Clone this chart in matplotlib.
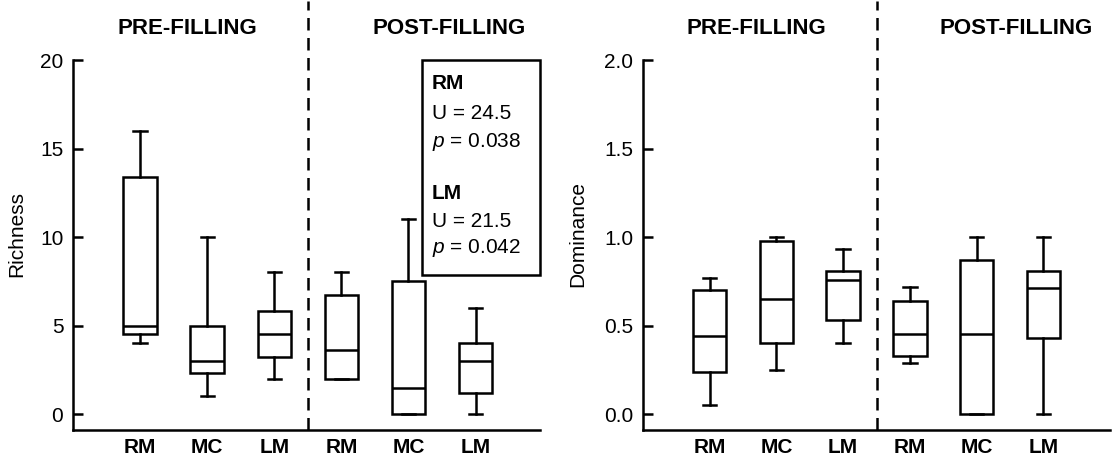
import numpy as np
import matplotlib
matplotlib.use('Agg')
import matplotlib.pyplot as plt
from matplotlib.patches import Rectangle

plt.rcParams['font.family'] = ['Liberation Sans', 'DejaVu Sans']
plt.rcParams['mathtext.fontset'] = 'custom'
plt.rcParams['mathtext.rm'] = 'Liberation Sans'
plt.rcParams['mathtext.it'] = 'Liberation Sans:italic'

# --- donnees ---
sites = ['RM', 'MC', 'LM', 'RM', 'MC', 'LM']
periodes = ['PRE-FILLING', 'POST-FILLING']

rich_bas = [4.0, 1.0, 2.0, 2.0, 0.0, 0.0]
rich_q1 = [4.5, 2.3, 3.2, 2.0, 0.0, 1.2]
rich_med = [5.0, 3.0, 4.5, 3.6, 1.5, 3.0]
rich_q3 = [13.4, 5.0, 5.8, 6.7, 7.5, 4.0]
rich_haut = [16.0, 10.0, 8.0, 8.0, 11.0, 6.0]

dom_bas = [0.05, 0.25, 0.40, 0.29, 0.0, 0.0]
dom_q1 = [0.24, 0.40, 0.53, 0.33, 0.0, 0.43]
dom_med = [0.44, 0.65, 0.76, 0.45, 0.45, 0.71]
dom_q3 = [0.70, 0.98, 0.81, 0.64, 0.87, 0.81]
dom_haut = [0.77, 1.0, 0.93, 0.72, 1.0, 1.0]

stat_lignes = ['RM', 'U = 24.5', '$p$ = 0.038', 'LM', 'U = 21.5', '$p$ = 0.042']
stat_gras = [True, False, False, True, False, False]
stat_y = [18.7, 16.95, 15.35, 12.45, 10.9, 9.4]

LW = 1.8
positions = np.arange(1, 7)


def stats_boites(bas, q1, med, q3, haut):
    return [dict(whislo=b, q1=a, med=m, q3=c, whishi=h, fliers=[])
            for b, a, m, c, h in zip(bas, q1, med, q3, haut)]


def panneau(ax, stats, ylim, yticks, fmt, ylabel, xmax, lab_x):
    ax.bxp(stats, positions=positions, widths=0.5, capwidths=0.2,
           showfliers=False, patch_artist=True,
           boxprops=dict(facecolor='white', edgecolor='black', linewidth=LW),
           medianprops=dict(color='black', linewidth=LW),
           whiskerprops=dict(color='black', linewidth=LW),
           capprops=dict(color='black', linewidth=LW))
    ax.set_xlim(0, xmax)
    ax.set_ylim(*ylim)
    ax.set_yticks(yticks)
    ax.set_yticklabels([fmt.format(v) for v in yticks], fontsize=15)
    ax.set_xticks(positions)
    ax.set_xticklabels(sites, fontsize=15, fontweight='bold')
    ax.tick_params(axis='x', length=0, pad=6)
    ax.tick_params(axis='y', direction='in', length=7, width=LW, pad=7)
    for s in ['top', 'right']:
        ax.spines[s].set_visible(False)
    for s in ['left', 'bottom']:
        ax.spines[s].set_linewidth(LW)
    ax.set_ylabel(ylabel, fontsize=15)
    ax.yaxis.set_label_coords(lab_x, 0.53)
    # separation avant / apres remplissage
    ax.axvline(3.5, ymin=0, ymax=1.16, color='black', linewidth=LW,
               linestyle=(0, (5, 3)), clip_on=False)
    tr = ax.get_xaxis_transform()
    ax.text(1.7, 1.086, periodes[0], transform=tr, ha='center', va='center',
            fontsize=16, fontweight='bold')
    ax.text(5.6, 1.086, periodes[1], transform=tr, ha='center', va='center',
            fontsize=16, fontweight='bold')


fig = plt.figure(figsize=(11.15, 4.57), dpi=100)
ax1 = fig.add_axes([0.0655, 0.0591, 0.4188, 0.8096])
ax2 = fig.add_axes([0.5767, 0.0591, 0.4188, 0.8096])

panneau(ax1, stats_boites(rich_bas, rich_q1, rich_med, rich_q3, rich_haut),
        (-0.9, 20), [0, 5, 10, 15, 20], '{:g}', 'Richness', 6.96, -0.10)
panneau(ax2, stats_boites(dom_bas, dom_q1, dom_med, dom_q3, dom_haut),
        (-0.09, 2.0), [0.0, 0.5, 1.0, 1.5, 2.0], '{:.1f}', 'Dominance', 7.0, -0.12)

# encadre des tests de Mann-Whitney
ax1.add_patch(Rectangle((5.2, 7.85), 6.96 - 5.2, 20 - 7.85, facecolor='white',
                        edgecolor='black', linewidth=LW, zorder=5, clip_on=False))
for txt, gras, y in zip(stat_lignes, stat_gras, stat_y):
    ax1.text(5.35, y, txt, fontsize=15, fontweight='bold' if gras else 'normal',
             va='center', ha='left', zorder=6)

fig.savefig('out.png', dpi=100)
